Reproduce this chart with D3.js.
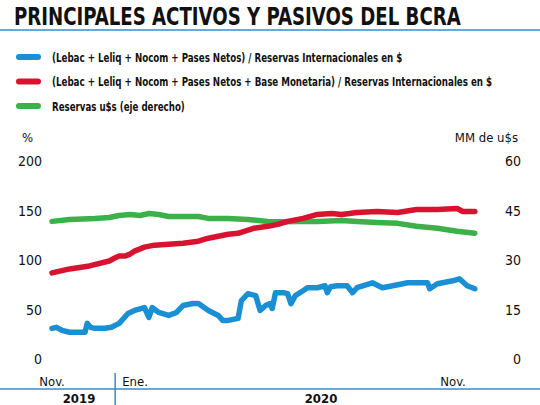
<!DOCTYPE html>
<html>
<head>
<meta charset="utf-8">
<script src="https://cdn.jsdelivr.net/npm/d3@7"></script>
<style>
  body { margin: 0; background: #fff; }
  svg { display: block; }
  text { font-family: "Liberation Sans Narrow", "DejaVu Sans Condensed", "Roboto", sans-serif; fill: #111; }
</style>
</head>
<body>
<div id="chart"></div>
<script>
const title = "PRINCIPALES ACTIVOS Y PASIVOS DEL BCRA";

const legendLabels = [
  "(Lebac + Leliq + Nocom + Pases Netos) / Reservas Internacionales en $",
  "(Lebac + Leliq + Nocom + Pases Netos + Base Monetaria) / Reservas Internacionales en $",
  "Reservas u$s (eje derecho)"
];

const leftTicks = [0, 50, 100, 150, 200];
const rightTicks = [0, 15, 30, 45, 60];

// (Lebac + Leliq + Nocom + Pases) / Reservas, %
const blueData = [
  ["2019-11-01", 31], ["2019-11-05", 32], ["2019-11-10", 29], ["2019-11-17", 27],
  ["2019-11-26", 27], ["2019-12-01", 27], ["2019-12-03", 36], ["2019-12-06", 32],
  ["2019-12-10", 31], ["2019-12-19", 31], ["2019-12-25", 32], ["2020-01-01", 36],
  ["2020-01-09", 46], ["2020-01-15", 49], ["2020-01-24", 52], ["2020-01-28", 42],
  ["2020-01-31", 52], ["2020-02-06", 47], ["2020-02-15", 44], ["2020-02-22", 47],
  ["2020-02-28", 54], ["2020-03-08", 56], ["2020-03-13", 56], ["2020-03-22", 49],
  ["2020-03-31", 44], ["2020-04-04", 39], ["2020-04-09", 39], ["2020-04-18", 41],
  ["2020-04-21", 59], ["2020-04-27", 66], ["2020-05-04", 64], ["2020-05-08", 49],
  ["2020-05-13", 54], ["2020-05-17", 56], ["2020-05-19", 51], ["2020-05-22", 67],
  ["2020-05-29", 67], ["2020-06-02", 66], ["2020-06-05", 56], ["2020-06-09", 64],
  ["2020-06-16", 69], ["2020-06-20", 72], ["2020-06-29", 72], ["2020-07-06", 74],
  ["2020-07-08", 67], ["2020-07-11", 73], ["2020-07-17", 74], ["2020-07-26", 74],
  ["2020-07-31", 67], ["2020-08-04", 72], ["2020-08-18", 77], ["2020-08-27", 72],
  ["2020-09-10", 75], ["2020-09-19", 77], ["2020-10-07", 77], ["2020-10-09", 71],
  ["2020-10-16", 76], ["2020-10-30", 79], ["2020-11-05", 81], ["2020-11-12", 74],
  ["2020-11-19", 71]
];

// (Lebac + Leliq + Nocom + Pases + Base) / Reservas, %
const redData = [
  ["2019-11-01", 87], ["2019-11-17", 91], ["2019-12-05", 94], ["2019-12-23", 99],
  ["2019-12-28", 102], ["2020-01-01", 104], ["2020-01-06", 104], ["2020-01-11", 106],
  ["2020-01-15", 109], ["2020-01-24", 113], ["2020-02-02", 115], ["2020-02-15", 116],
  ["2020-02-28", 117], ["2020-03-13", 119], ["2020-03-22", 122], ["2020-04-09", 126],
  ["2020-04-18", 127], ["2020-05-02", 132], ["2020-05-15", 134], ["2020-05-24", 136],
  ["2020-06-02", 139], ["2020-06-16", 142], ["2020-06-29", 146], ["2020-07-12", 147],
  ["2020-07-21", 146], ["2020-08-04", 148], ["2020-08-22", 149], ["2020-09-10", 148],
  ["2020-09-27", 151], ["2020-10-16", 151], ["2020-11-03", 152], ["2020-11-08", 149],
  ["2020-11-19", 149]
];

// Reservas, MM de u$s (right axis)
const greenData = [
  ["2019-11-01", 41.7], ["2019-11-17", 42.3], ["2019-12-10", 42.6], ["2019-12-23", 42.9],
  ["2020-01-01", 43.5], ["2020-01-11", 43.8], ["2020-01-20", 43.5], ["2020-01-28", 44.1],
  ["2020-02-06", 43.8], ["2020-02-15", 43.2], ["2020-02-28", 43.2], ["2020-03-13", 43.2],
  ["2020-03-22", 42.6], ["2020-04-09", 42.6], ["2020-04-27", 42.3], ["2020-05-15", 41.7],
  ["2020-05-28", 41.6], ["2020-06-12", 41.7], ["2020-06-29", 41.7], ["2020-07-21", 42.0],
  ["2020-08-04", 41.7], ["2020-08-22", 41.4], ["2020-09-10", 41.1], ["2020-09-27", 40.2],
  ["2020-10-16", 39.6], ["2020-11-03", 38.7], ["2020-11-19", 38.1]
];

const colors = ["#1a8fd3", "#d8132f", "#3cb14a"];
const axisBlue = "#2f8fcf";

const W = 540, H = 405;
const parse = d3.timeParse("%Y-%m-%d");

const svg = d3.select("#chart").append("svg")
  .attr("width", W).attr("height", H);

// squeeze text horizontally so it spans the wanted width (condensed look)
function squeezeText(x0, y0, str, width, size, weight) {
  const t = svg.append("text")
    .attr("x", 0).attr("y", 0)
    .style("font-size", size + "px")
    .style("font-weight", weight)
    .text(str);
  const w = t.node().getComputedTextLength();
  t.attr("transform", `translate(${x0},${y0}) scale(${(width / w).toFixed(4)},1)`);
  return t;
}

// title
squeezeText(14, 25, title, 447, 25, "bold");

svg.append("line")
  .attr("x1", 0).attr("x2", W).attr("y1", 30).attr("y2", 30)
  .attr("stroke", axisBlue).attr("stroke-width", 1.5);

// legend
const legendWidths = [351, 441, 133];
legendLabels.forEach((d, i) => {
  const y = 57 + i * 24.5;
  svg.append("line")
    .attr("x1", 19).attr("x2", 38).attr("y1", y).attr("y2", y)
    .attr("stroke", colors[i]).attr("stroke-width", 6).attr("stroke-linecap", "round");
  squeezeText(52, y + 4.5, d, legendWidths[i], 13, "bold");
});

// scales
const x = d3.scaleTime()
  .domain([parse("2019-11-01"), parse("2020-11-01")])
  .range([52, 455]);

const yL = d3.scaleLinear().domain([0, 200]).range([359, 161]);
const yR = d3.scaleLinear().domain([0, 60]).range([359, 161]);

// axis labels
svg.append("text").attr("x", 22).attr("y", 142)
  .style("font-size", "13px").text("%");
svg.append("text").attr("x", 518).attr("y", 142).attr("text-anchor", "end")
  .style("font-size", "13px").text("MM de u$s");

svg.append("g").selectAll("text").data(leftTicks).join("text")
  .attr("x", 42).attr("y", d => yL(d) + 5)
  .attr("text-anchor", "end")
  .style("font-size", "14px")
  .text(d => d);

svg.append("g").selectAll("text").data(rightTicks).join("text")
  .attr("x", 521).attr("y", d => yR(d) + 5)
  .attr("text-anchor", "end")
  .style("font-size", "14px")
  .text(d => d);

// lines
const lineL = d3.line().x(d => x(parse(d[0]))).y(d => yL(d[1]));
const lineR = d3.line().x(d => x(parse(d[0]))).y(d => yR(d[1]));

function drawLine(data, line, color) {
  svg.append("path").datum(data)
    .attr("fill", "none").attr("stroke", color).attr("stroke-width", 5.5)
    .attr("stroke-linejoin", "round").attr("stroke-linecap", "round")
    .attr("d", line);
}
drawLine(greenData, lineR, colors[2]);
drawLine(redData, lineL, colors[1]);
drawLine(blueData, lineL, colors[0]);

// time axis
const axisY = 389;
svg.append("line")
  .attr("x1", 0).attr("x2", W).attr("y1", axisY).attr("y2", axisY)
  .attr("stroke", axisBlue).attr("stroke-width", 1.5);

const sepX = x(parse("2020-01-01")) - 4;
svg.append("line")
  .attr("x1", sepX).attr("x2", sepX).attr("y1", 373).attr("y2", H)
  .attr("stroke", axisBlue).attr("stroke-width", 1.5);

svg.append("text").attr("x", x(parse("2019-11-01"))).attr("y", 386)
  .attr("text-anchor", "middle").style("font-size", "13px").text("Nov.");
svg.append("text").attr("x", sepX + 7).attr("y", 386)
  .style("font-size", "13px").text("Ene.");
svg.append("text").attr("x", x(parse("2020-11-01")) - 2).attr("y", 386)
  .attr("text-anchor", "middle").style("font-size", "13px").text("Nov.");

svg.append("text").attr("x", 79).attr("y", 403)
  .attr("text-anchor", "middle").style("font-size", "13px").style("font-weight", "bold").text("2019");
svg.append("text").attr("x", 321).attr("y", 403)
  .attr("text-anchor", "middle").style("font-size", "13px").style("font-weight", "bold").text("2020");
</script>
</body>
</html>
